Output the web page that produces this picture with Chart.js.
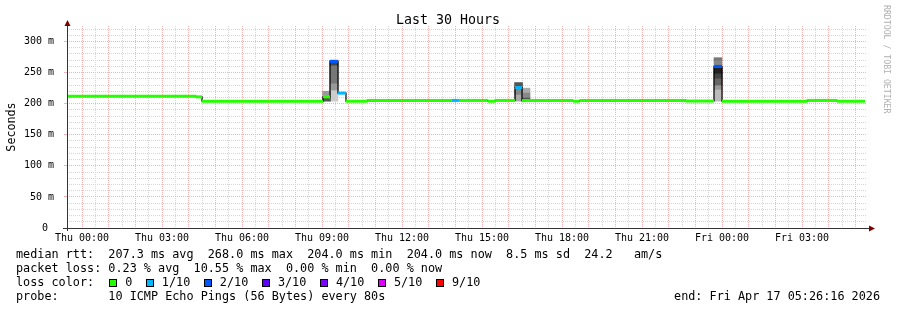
<!DOCTYPE html>
<html>
<head>
<meta charset="utf-8">
<script src="https://cdn.jsdelivr.net/npm/chart.js@4/dist/chart.umd.min.js"></script>
<style>
html,body{margin:0;padding:0;background:#fff;}
#wrap{position:relative;width:897px;height:310px;overflow:hidden;background:#fff;}
#c{position:absolute;left:0;top:0;}
.lg{position:absolute;left:16px;font-family:"DejaVu Sans Mono",monospace;font-size:11.8px;line-height:14px;white-space:pre;color:#000;}
#lossrow{display:flex;align-items:flex-start;}
.box{display:inline-block;box-sizing:border-box;width:8px;height:8px;border:1px solid #000;margin-top:4px;margin-left:13.6px;margin-right:8px;}
.box.first{margin-left:15px;}
#endline{position:absolute;right:17px;font-family:"DejaVu Sans Mono",monospace;font-size:11.8px;line-height:14px;white-space:pre;color:#000;}
</style>
</head>
<body>
<div id="wrap">
<canvas id="c" width="897" height="310"></canvas>
<div class="lg" style="top:247px">median rtt:  207.3 ms avg  268.0 ms max  204.0 ms min  204.0 ms now  8.5 ms sd  24.2   am/s</div>
<div class="lg" style="top:261px">packet loss: 0.23 % avg  10.55 % max  0.00 % min  0.00 % now</div>
<div class="lg" id="lossrow" style="top:275px"><span>loss color:</span></div>
<div class="lg" style="top:289px">probe:       10 ICMP Echo Pings (56 Bytes) every 80s</div>
<div id="endline" style="top:289px">end: Fri Apr 17 05:26:16 2026</div>
</div>
<script>
// ---- data (hours since Thu 00:00) ----
const lossLabels = ['0', '1/10', '2/10', '3/10', '4/10', '5/10', '9/10'];
const lossColors = ['#26ff00', '#00b8ff', '#0059ff', '#5e00ff', '#7e00ff', '#dd00ff', '#ff0000'];

// boundaries of median steps
const stepTimes = [-0.5628, 4.275, 4.5, 9.04, 9.3, 9.6, 9.9, 10.69, 13.875, 14.14, 15.22, 15.49,
                   16.24, 16.5, 16.8, 18.41, 18.67, 22.65, 23.7, 24.0, 27.19, 28.31, 29.36];
// median rtt (ms) for each step
const medianValues = [212, 211, 204, 211, 268, 217, 204, 205.2, 205.2, 205.2, 204, 205.2,
                      226, 205, 205.2, 204, 205.2, 204.3, 260, 204, 205.2, 204];
// loss level index into lossColors for each step
const lossLevels = [0, 0, 0, 0, 2, 1, 0, 0, 1, 0, 0, 0, 1, 0, 0, 0, 0, 0, 2, 0, 0, 0];

// smoke columns (centre time) and bands per grey shade [low, high] in ms
const smokeCenters = [9.17, 9.45, 16.37, 16.65, 23.85];
const smokeShades = ['#222222', '#444444', '#555555', '#666666', '#777777', '#888888', '#999999', '#aaaaaa', '#bbbbbb', '#cccccc'];
const smoke222 = [null, null, null, null, [249, 258]];
const smoke444 = [null, [262, 270], null, null, [241, 249]];
const smoke555 = [[204, 211], null, [226, 234], [204, 209], null];
const smoke666 = [null, null, null, null, [230, 241]];
const smoke777 = [null, [233, 262], null, null, [270, 274]];
const smoke888 = [null, null, [215, 224], [209, 217], [262, 270]];
const smoke999 = [[213, 220], [222, 233], null, null, [223, 230]];
const smokeAAA = [null, null, [204, 215], [217, 225], null];
const smokeBBB = [null, null, null, null, [204, 223]];
const smokeCCC = [null, [204, 222], null, null, null];
const smokeBands = [smoke222, smoke444, smoke555, smoke666, smoke777, smoke888, smoke999, smokeAAA, smokeBBB, smokeCCC];

// tick labels
const yTickValues = [0, 50, 100, 150, 200, 250, 300];
const yTickLabels = ['0 ', '50 m', '100 m', '150 m', '200 m', '250 m', '300 m'];
const xTickHours = [0, 3, 6, 9, 12, 15, 18, 21, 24, 27];
const xTickLabels = ['Thu 00:00', 'Thu 03:00', 'Thu 06:00', 'Thu 09:00', 'Thu 12:00', 'Thu 15:00', 'Thu 18:00', 'Thu 21:00', 'Fri 00:00', 'Fri 03:00'];

// ---- legend row ----
const row = document.getElementById('lossrow');
lossLabels.forEach((lab, i) => {
  const b = document.createElement('span');
  b.className = i === 0 ? 'box first' : 'box';
  b.style.background = lossColors[i];
  row.appendChild(b);
  const t = document.createElement('span');
  t.textContent = lab;
  row.appendChild(t);
});

// ---- build median points (step pairs) ----
const medianPoints = [];
for (let i = 0; i < medianValues.length; i++) {
  medianPoints.push({x: stepTimes[i], y: medianValues[i]});
  medianPoints.push({x: stepTimes[i + 1], y: medianValues[i]});
}

const MONO = "'DejaVu Sans Mono', monospace";
Chart.defaults.font.family = MONO;
Chart.defaults.color = '#000';

const RED = '#f4b4b4';
const GREY = '#d6d6d6';

const datasets = [
  {
    type: 'line', data: medianPoints, borderWidth: 3, pointRadius: 0, tension: 0,
    borderColor: lossColors[0], borderCapStyle: 'butt', order: 0,
    segment: {
      borderColor: ctx => (ctx.p0DataIndex % 2 === 1) ? 'rgba(0,0,0,0)'
        : lossColors[lossLevels[ctx.p0DataIndex / 2]]
    }
  },
  {
    type: 'line', data: medianPoints, borderWidth: 1.2, pointRadius: 0, tension: 0,
    borderColor: '#000', order: 1
  }
];
smokeBands.forEach((band, s) => {
  const data = [];
  band.forEach((r, i) => { if (r) data.push({x: smokeCenters[i], y: r}); });
  datasets.push({
    type: 'bar', data, backgroundColor: smokeShades[s], borderWidth: 0,
    barThickness: 8, grouped: false, order: 2
  });
});

const yGridVals = [];
for (let v = 0; v <= 320; v += 10) yGridVals.push(v);
const xGridVals = [];
for (let h = 0; h <= 29; h += 0.5) xGridVals.push(h);

const decor = {
  id: 'decor',
  afterDraw(chart) {
    const ctx = chart.ctx;
    const a = chart.chartArea;
    ctx.save();
    // axes
    ctx.strokeStyle = '#333';
    ctx.lineWidth = 1;
    ctx.beginPath();
    ctx.moveTo(63, Math.round(a.bottom) + 0.5);
    ctx.lineTo(870, Math.round(a.bottom) + 0.5);
    ctx.moveTo(Math.round(a.left) + 0.5, Math.round(a.bottom) + 3);
    ctx.lineTo(Math.round(a.left) + 0.5, 24);
    ctx.stroke();
    // arrows
    ctx.fillStyle = '#7f0000';
    ctx.beginPath();
    ctx.moveTo(Math.round(a.left) + 0.5 - 3, 26);
    ctx.lineTo(Math.round(a.left) + 0.5 + 3, 26);
    ctx.lineTo(Math.round(a.left) + 0.5, 20);
    ctx.closePath(); ctx.fill();
    ctx.beginPath();
    ctx.moveTo(869, Math.round(a.bottom) + 0.5 - 3);
    ctx.lineTo(869, Math.round(a.bottom) + 0.5 + 3);
    ctx.lineTo(875, Math.round(a.bottom) + 0.5);
    ctx.closePath(); ctx.fill();
    // title
    ctx.fillStyle = '#000';
    ctx.font = '13.3px ' + MONO;
    ctx.textAlign = 'center';
    ctx.textBaseline = 'alphabetic';
    ctx.fillText('Last 30 Hours', 448, 24);
    // y title
    ctx.save();
    ctx.translate(15, 127);
    ctx.rotate(-Math.PI / 2);
    ctx.font = '11.7px ' + MONO;
    ctx.textAlign = 'center';
    ctx.textBaseline = 'alphabetic';
    ctx.fillText('Seconds', 0, 0);
    ctx.restore();
    // watermark
    ctx.save();
    ctx.translate(884, 5);
    ctx.rotate(Math.PI / 2);
    ctx.font = '8.2px ' + MONO;
    ctx.fillStyle = '#b0b0b0';
    ctx.textAlign = 'left';
    ctx.textBaseline = 'alphabetic';
    ctx.fillText('RRDTOOL / TOBI OETIKER', 0, 0);
    ctx.restore();
    ctx.restore();
  }
};

new Chart(document.getElementById('c'), {
  data: {datasets},
  options: {
    responsive: false,
    animation: false,
    devicePixelRatio: 1,
    events: [],
    layout: {padding: {top: 26, right: 30, bottom: 0, left: 0}},
    plugins: {legend: {display: false}, tooltip: {enabled: false}, title: {display: false}},
    scales: {
      x: {
        type: 'linear', min: -0.5628, max: 29.4372, offset: false,
        afterBuildTicks: s => { s.ticks = xGridVals.map(v => ({value: v})); },
        afterFit: s => { s.height = 82; },
        ticks: {
          autoSkip: false, maxRotation: 0, padding: 4,
          font: {size: 10, family: MONO}, color: '#000',
          callback: v => { const i = xTickHours.indexOf(v); return i >= 0 ? xTickLabels[i] : ''; }
        },
        grid: {
          offset: false, drawTicks: false, lineWidth: 1,
          color: ctx => (ctx.tick && Number.isInteger(ctx.tick.value)) ? RED : GREY
        },
        border: {display: false, dash: [1, 1]}
      },
      y: {
        type: 'linear', min: 0, max: 325,
        afterBuildTicks: s => { s.ticks = yGridVals.map(v => ({value: v})); },
        afterFit: s => { s.width = 67; },
        ticks: {
          autoSkip: false, padding: 10,
          font: {size: 10, family: MONO}, color: '#000',
          callback: v => { const i = yTickValues.indexOf(v); return i >= 0 ? yTickLabels[i] : ''; }
        },
        grid: {
          drawTicks: true, tickLength: 3, lineWidth: 1,
          color: ctx => (ctx.tick && ctx.tick.value % 50 === 0) ? RED : GREY,
          tickColor: ctx => (ctx.tick && ctx.tick.value % 50 === 0) ? RED : 'rgba(0,0,0,0)'
        },
        border: {display: false, dash: [1, 1]}
      }
    }
  },
  plugins: [decor]
});
</script>
</body>
</html>
